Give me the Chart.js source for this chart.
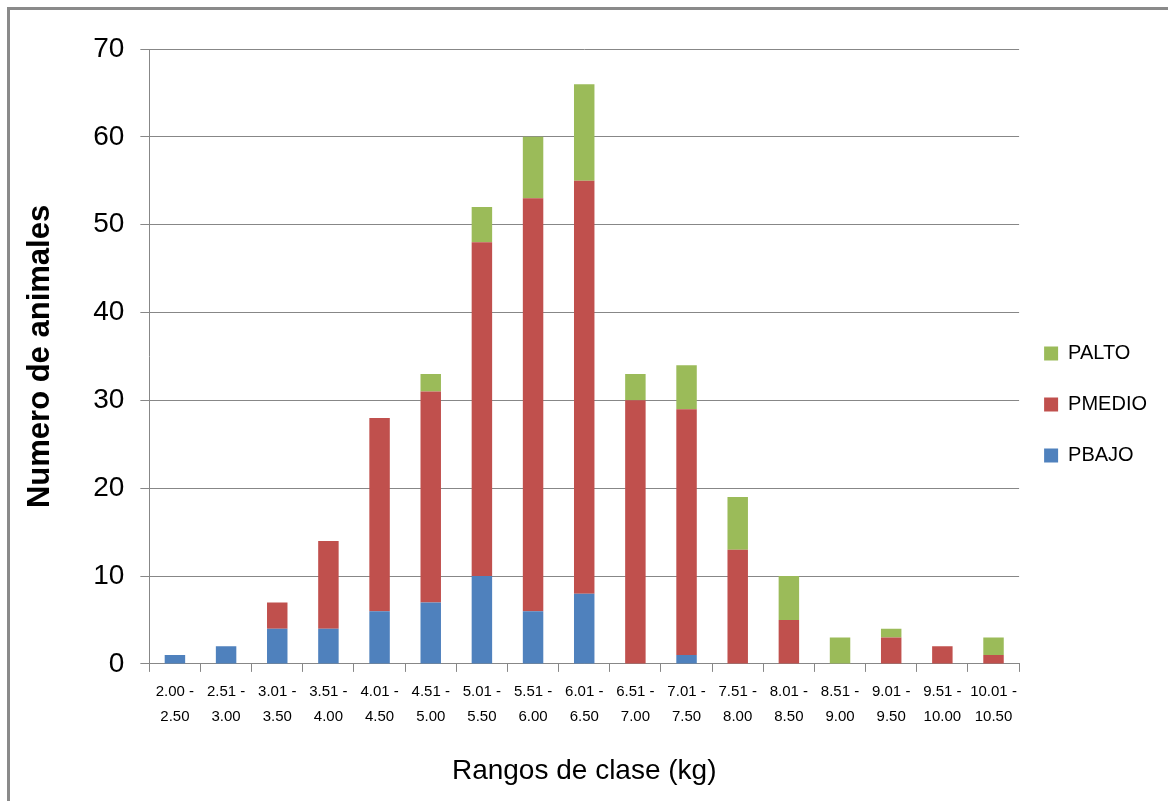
<!DOCTYPE html>
<html>
<head>
<meta charset="utf-8">
<script src="https://cdn.jsdelivr.net/npm/chart.js@4.4.1/dist/chart.umd.min.js"></script>
<style>
  html, body { margin: 0; padding: 0; background: #fff; overflow: hidden; }
  #frame { position: absolute; left: 7px; top: 7px; width: 1300px; height: 900px;
           border-top: 3px solid #8a8a8a; border-left: 3px solid #8a8a8a; }
  #wrap { position: absolute; left: 0; top: 0; width: 1168px; height: 801px; }
</style>
</head>
<body>
<div id="frame"></div>
<div id="wrap"><canvas id="c" width="1168" height="801"></canvas></div>
<script>
// Class ranges (kg), two-line labels
const categories = [
  ['2.00 -', '2.50'], ['2.51 -', '3.00'], ['3.01 -', '3.50'], ['3.51 -', '4.00'],
  ['4.01 -', '4.50'], ['4.51 -', '5.00'], ['5.01 -', '5.50'], ['5.51 -', '6.00'],
  ['6.01 -', '6.50'], ['6.51 -', '7.00'], ['7.01 -', '7.50'], ['7.51 -', '8.00'],
  ['8.01 -', '8.50'], ['8.51 -', '9.00'], ['9.01 -', '9.50'], ['9.51 -', '10.00'],
  ['10.01 -', '10.50']
];
// Number of animals per class, by weight group
const pBajo  = [1, 2, 4, 4, 6, 7, 10, 6, 8, 0, 1, 0, 0, 0, 0, 0, 0];
const pMedio = [0, 0, 3, 10, 22, 24, 38, 47, 47, 30, 28, 13, 5, 0, 3, 2, 1];
const pAlto  = [0, 0, 0, 0, 0, 2, 4, 7, 11, 3, 5, 6, 5, 3, 1, 0, 2];
const yTicks = [0, 10, 20, 30, 40, 50, 60, 70];

const FONT = "'Liberation Sans', Arial, sans-serif";
const GRID = '#878787';

// Nudge the side legend a little up and left of its default slot
const legendNudge = {
  id: 'legendNudge',
  afterLayout(chart) {
    const lg = chart.legend;
    if (!lg) return;
    lg.top -= 16; lg.bottom -= 16;
    lg.left -= 6; lg.right -= 6;
  }
};

new Chart(document.getElementById('c'), {
  type: 'bar',
  data: {
    labels: categories,
    datasets: [
      { label: 'PBAJO', data: pBajo, backgroundColor: '#4F81BD' },
      { label: 'PMEDIO', data: pMedio, backgroundColor: '#C0504D' },
      { label: 'PALTO', data: pAlto, backgroundColor: '#9BBB59' }
    ]
  },
  plugins: [legendNudge],
  options: {
    responsive: false,
    animation: false,
    layout: { padding: { top: 49, left: 18, right: 5, bottom: 9 } },
    datasets: { bar: { barPercentage: 0.8, categoryPercentage: 0.5 } },
    plugins: {
      tooltip: { enabled: false },
      legend: {
        position: 'right',
        reverse: true,
        align: 'center',
        labels: {
          font: { family: FONT, size: 20 },
          color: '#000',
          boxWidth: 14,
          boxHeight: 14,
          padding: 31
        }
      }
    },
    scales: {
      x: {
        stacked: true,
        grid: { drawOnChartArea: false, drawTicks: true, tickLength: 8, color: GRID, offset: true },
        border: { color: GRID, width: 1 },
        ticks: { font: { family: FONT, size: 15, lineHeight: 1.65 }, color: '#000', maxRotation: 0, autoSkip: false, padding: 8 },
        title: { display: true, text: 'Rangos de clase (kg)', font: { family: FONT, size: 28 }, color: '#000', padding: { top: 17 } }
      },
      y: {
        stacked: true,
        min: 0, max: 70,
        afterBuildTicks: (axis) => { axis.ticks = yTicks.map(v => ({ value: v })); },
        grid: { color: GRID, tickLength: 9 },
        border: { color: GRID, width: 1 },
        ticks: { font: { family: FONT, size: 28 }, color: '#000', padding: 16 },
        title: { display: true, text: 'Numero de animales', font: { family: FONT, size: 31, weight: 'bold' }, color: '#000', padding: { bottom: 18 } }
      }
    }
  }
});
</script>
</body>
</html>
